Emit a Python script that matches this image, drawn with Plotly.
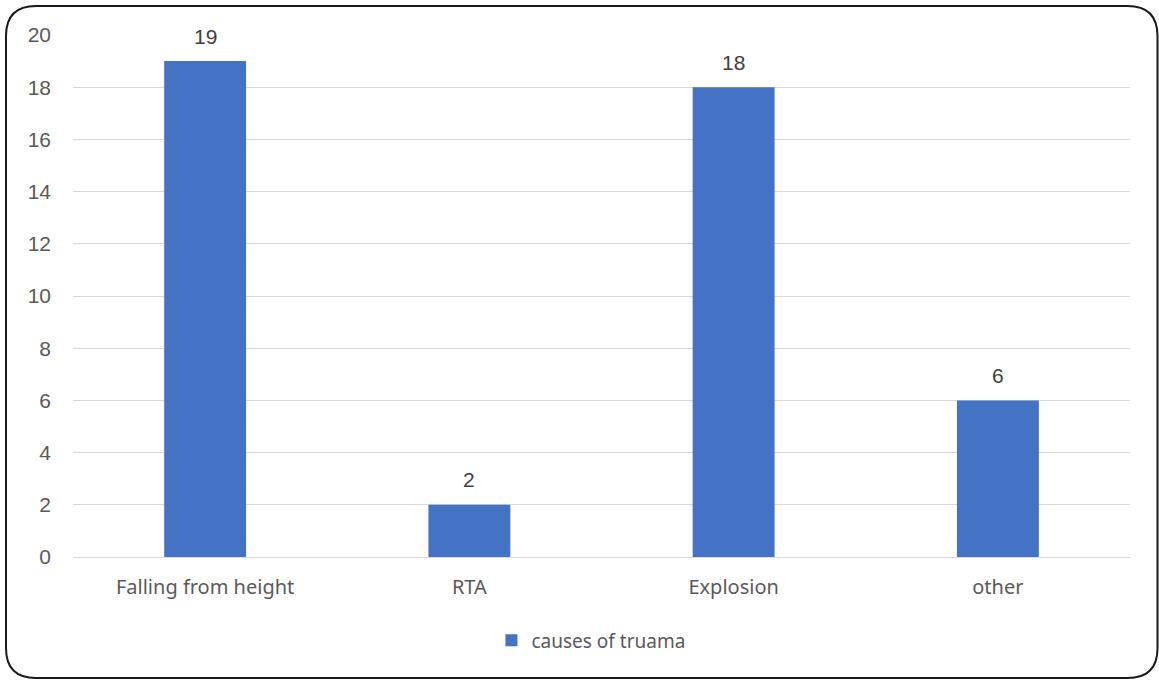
import plotly.graph_objects as go

# Causes of trauma counts
categories = ["Falling from height", "RTA", "Explosion", "other"]
counts = [19, 2, 18, 6]
series_name = "causes of truama"
y_ticks = [0, 2, 4, 6, 8, 10, 12, 14, 16, 18, 20]

W, H = 1159, 680
L, R, T, B = 73, 29, 35, 123
pw, ph = W - L - R, H - T - B

fig = go.Figure()
fig.add_trace(go.Bar(
    x=categories, y=counts, name=series_name,
    marker=dict(color="#4472C4", line=dict(width=0)),
    width=0.31,
    showlegend=True,
))

# value labels above each bar
for c, v in zip(categories, counts):
    fig.add_annotation(
        x=c, y=v, text=str(v), showarrow=False, yanchor="middle", yshift=25,
        font=dict(family="Liberation Sans, Arial", size=21, color="#404040"),
    )

# rounded frame around the whole chart, expressed in paper coordinates
def px(x):
    return (x - L) / pw

def py(y):
    return (H - B - y) / ph

x0, x1, y0, y1, r = 6, 1157.5, 6, 678, 30
path = (
    f"M {px(x0 + r)},{py(y0)} L {px(x1 - r)},{py(y0)} "
    f"Q {px(x1)},{py(y0)} {px(x1)},{py(y0 + r)} "
    f"L {px(x1)},{py(y1 - r)} Q {px(x1)},{py(y1)} {px(x1 - r)},{py(y1)} "
    f"L {px(x0 + r)},{py(y1)} Q {px(x0)},{py(y1)} {px(x0)},{py(y1 - r)} "
    f"L {px(x0)},{py(y0 + r)} Q {px(x0)},{py(y0)} {px(x0 + r)},{py(y0)} Z"
)

fig.update_layout(
    width=W, height=H,
    margin=dict(l=L, r=R, t=T, b=B),
    paper_bgcolor="white", plot_bgcolor="white",
    bargap=0.69,
    xaxis=dict(
        showgrid=False, showline=False, ticks="",
        ticklabelstandoff=16,
        tickfont=dict(family="Noto Sans, Open Sans", size=20, color="#595959"),
    ),
    yaxis=dict(
        range=[0, 20], tickvals=y_ticks, ticks="",
        showgrid=True, gridcolor="#D9D9D9", gridwidth=1,
        zeroline=True, zerolinecolor="#D9D9D9", zerolinewidth=1,
        showline=False, ticklabelstandoff=21,
        tickfont=dict(family="Liberation Sans, Arial", size=21, color="#595959"),
    ),
    legend=dict(
        orientation="h", x=0.49, xanchor="center", y=-0.16, yanchor="middle",
        font=dict(family="Noto Sans, Open Sans", size=19, color="#595959"),
        itemwidth=30,
    ),
    shapes=[dict(
        type="path", path=path, xref="paper", yref="paper",
        line=dict(color="#1a1a1a", width=2), fillcolor="rgba(0,0,0,0)",
        layer="above",
    )],
)

fig.write_html("out.html")
